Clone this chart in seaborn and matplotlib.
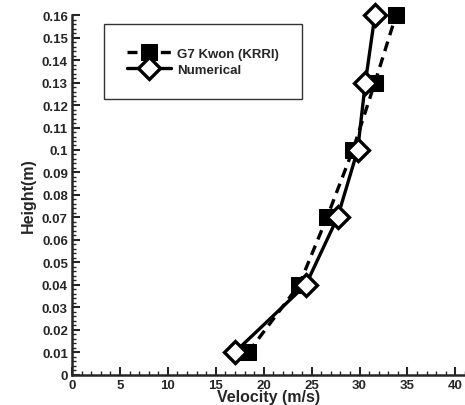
import seaborn as sns
import matplotlib.pyplot as plt
from matplotlib.ticker import MultipleLocator
import pandas as pd

heights = [0.01, 0.04, 0.07, 0.10, 0.13, 0.16]
kwon_vel = [18.4, 23.7, 26.6, 29.3, 31.6, 33.8]
num_vel = [17.0, 24.4, 27.7, 29.8, 30.6, 31.6]
labels = ["G7 Kwon (KRRI)", "Numerical"]

sns.set_style("ticks")
plt.rcParams['font.family'] = ['Liberation Sans', 'DejaVu Sans']
plt.rcParams['font.weight'] = 'bold'

fig = plt.figure(figsize=(4.65, 4.06), dpi=100)
ax = fig.add_axes([0.155, 0.075, 0.845, 0.885])

df_k = pd.DataFrame({"v": kwon_vel, "h": heights})
df_n = pd.DataFrame({"v": num_vel, "h": heights})

sns.lineplot(data=df_k, x="v", y="h", sort=False, estimator=None, ax=ax,
             color="black", lw=2.4, linestyle=(0, (3, 2)), marker="s", ms=11,
             mfc="black", mec="black", label=labels[0], clip_on=False)
sns.lineplot(data=df_n, x="v", y="h", sort=False, estimator=None, ax=ax,
             color="black", lw=2.4, marker="D", ms=11, mfc="white", mec="black",
             mew=2.4, label=labels[1], clip_on=False)

ax.set_xlim(0, 41)
ax.set_ylim(0, 0.16)
ax.xaxis.set_major_locator(MultipleLocator(5))
ax.xaxis.set_minor_locator(MultipleLocator(1))
ax.yaxis.set_minor_locator(MultipleLocator(0.002))
ax.set_yticks([0.01 * i for i in range(17)])
ax.set_yticklabels(["0"] + [f"{0.01 * i:.2f}".rstrip("0") if i == 10 else f"{0.01 * i:.2f}" for i in range(1, 17)])
ax.tick_params(which="major", direction="in", length=6, width=1.5, labelsize=9.5, pad=3)
ax.tick_params(which="minor", direction="in", length=3, width=1)
sns.despine(ax=ax)
for s in ["left", "bottom"]:
    ax.spines[s].set_linewidth(1.8)

ax.set_xlabel("Velocity (m/s)", fontsize=11.5, fontweight="bold", labelpad=-1)
ax.set_ylabel("Height(m)", fontsize=11.5, fontweight="bold", labelpad=4)

leg = ax.legend(loc="upper left", bbox_to_anchor=(0.08, 0.975), frameon=True,
                fancybox=False, edgecolor="black", fontsize=9.5, handlelength=3.4,
                borderpad=1.75, labelspacing=0.3, handletextpad=0.4, borderaxespad=0)
leg.get_frame().set_linewidth(1)

fig.savefig("out.png", dpi=100)
